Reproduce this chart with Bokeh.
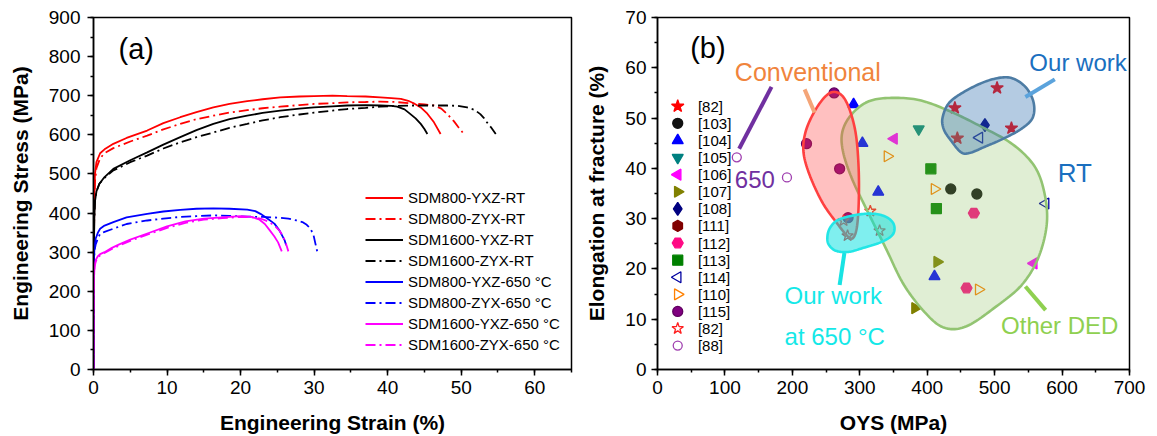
import numpy as np
from bokeh.plotting import figure
from bokeh.layouts import row
from bokeh.models import (Range1d, SingleIntervalTicker, Legend, LegendItem, Label)
from bokeh.core.properties import value
from bokeh.embed import file_html
from bokeh.resources import INLINE

FONT = "Liberation Sans"

# ---------------- panel (a): stress-strain curves ----------------
s800_yxz_rt_x = [0, 0.05, 0.1, 0.2, 0.4, 0.9, 1.5, 2.7, 4.5, 7.3, 9.5, 11.8, 14, 16.3, 18.5, 20.9, 23, 25.4, 28, 30, 32.5, 34.5, 37, 39, 40.5, 41.8, 42.8, 43.6, 44.5, 45.4, 46.3, 47.2]
s800_yxz_rt_y = [0, 250, 420, 500, 530, 553, 563, 577, 592, 611, 630, 645, 658, 670, 679, 686, 691, 696, 698, 699, 700, 699, 698, 696, 694, 692, 687, 680, 670, 654, 632, 602]
s800_zyx_rt_x = [0, 0.05, 0.1, 0.2, 0.4, 0.9, 1.5, 2.7, 5, 7.3, 9.5, 11.8, 14, 16.3, 18.5, 20.9, 23, 25.4, 28, 30, 32.5, 34.5, 37, 39, 41, 43.6, 45, 46.3, 47.3, 48.1, 49, 49.6, 50.2]
s800_zyx_rt_y = [0, 250, 410, 480, 515, 540, 553, 566, 583, 598, 614, 628, 640, 649, 657, 663, 668, 672, 676, 679, 681, 683, 684, 685, 684, 680, 678, 675, 667, 653, 635, 620, 606]
s1600_yxz_rt_x = [0, 0.05, 0.1, 0.2, 0.4, 0.8, 1.5, 2.7, 5, 7.3, 9.5, 11.8, 14, 16.3, 18.5, 20.9, 23, 25.4, 28, 30, 32.5, 34.5, 37, 39, 40.5, 41.3, 42.3, 43.1, 43.8, 44.5, 45.0, 45.4]
s1600_yxz_rt_y = [0, 250, 380, 430, 455, 475, 492, 513, 535, 555, 575, 594, 612, 628, 640, 649, 656, 662, 667, 670, 673, 675, 676, 675, 674, 672, 665, 653, 642, 628, 615, 602]
s1600_zyx_rt_x = [0, 0.05, 0.1, 0.2, 0.4, 0.8, 1.5, 2.7, 5, 7.3, 9.5, 11.8, 14, 16.3, 18.5, 20.9, 23, 25.4, 28, 30, 32.5, 34.5, 37, 39, 41.3, 43.6, 46, 48.1, 49.5, 50.8, 51.8, 52.6, 53.1, 53.5, 54.1, 54.7]
s1600_zyx_rt_y = [0, 250, 380, 430, 455, 475, 490, 509, 530, 547, 565, 581, 594, 606, 618, 628, 637, 645, 652, 657, 662, 666, 669, 672, 674, 675, 675, 675, 674, 670, 664, 653, 643, 632, 618, 602]
s800_yxz_650_x = [0, 0.03, 0.08, 0.15, 0.3, 0.6, 0.9, 1.5, 2.7, 4.5, 7.3, 9.5, 11.8, 14, 16.3, 18.5, 20.9, 22, 22.7, 23.5, 24.6, 25.3, 26, 26.2]
s800_yxz_650_y = [0, 200, 290, 318, 335, 350, 360, 368, 377, 389, 398, 404, 408, 411, 412, 411, 409, 405, 398, 388, 373, 355, 330, 318]
s800_zyx_650_x = [0, 0.03, 0.08, 0.15, 0.3, 0.6, 0.9, 1.5, 2.7, 4.5, 7.3, 9.5, 11.8, 14, 16.3, 18.5, 20.9, 23, 25.4, 26.5, 27.6, 28.4, 29, 29.5, 29.9, 30.2, 30.5]
s800_zyx_650_y = [0, 190, 280, 305, 320, 335, 347, 352, 360, 372, 381, 386, 390, 392, 394, 393, 391, 390, 388, 386, 381, 377, 370, 360, 345, 320, 295]
s1600_yxz_650_x = [0, 0.03, 0.08, 0.15, 0.3, 0.6, 0.9, 1.5, 2.5, 3.5, 5, 7.5, 10, 12.5, 15, 17.5, 20, 21.5, 22.5, 23.3, 24, 24.6, 25.1, 25.6]
s1600_yxz_650_y = [0, 150, 240, 265, 280, 290, 295, 300, 311, 320, 332, 349, 366, 379, 386, 389, 392, 390, 384, 372, 355, 340, 325, 302]
s1600_zyx_650_x = [0, 0.03, 0.08, 0.15, 0.3, 0.6, 0.9, 1.5, 2.5, 3.5, 5, 7.5, 10, 12.5, 15, 17.5, 20, 21.5, 22.7, 23.8, 24.6, 25.3, 25.8, 26.2, 26.5]
s1600_zyx_650_y = [0, 150, 240, 262, 276, 286, 292, 298, 308, 317, 329, 346, 362, 375, 383, 387, 390, 389, 386, 378, 368, 355, 340, 320, 302]

curve_labels = ["SDM800-YXZ-RT", "SDM800-ZYX-RT", "SDM1600-YXZ-RT", "SDM1600-ZYX-RT",
                "SDM800-YXZ-650 °C", "SDM800-ZYX-650 °C", "SDM1600-YXZ-650 °C", "SDM1600-ZYX-650 °C"]

# ---------------- panel (b): OYS vs elongation ----------------
ref82_x = [441, 503.6, 524.9, 444.7];   ref82_y = [52.0, 56.0, 48.0, 46.0]
ref103_x = [434.9, 473.6];             ref103_y = [35.9, 34.9]
ref104_x = [290.8, 303.9, 327.4, 410.8]; ref104_y = [52.7, 45.0, 35.3, 18.5]
ref105_x = [387.4];                    ref105_y = [47.8]
ref106_x = [350.8, 558.1];             ref106_y = [45.9, 21.1]
ref107_x = [414.7, 381.9];             ref107_y = [21.4, 12.2]
ref108_x = [485.6];                    ref108_y = [48.6]
ref111_x = [];                         ref111_y = []
ref112_x = [469.2, 458.3];             ref112_y = [31.1, 16.2]
ref113_x = [405.4, 413.6];             ref113_y = [39.9, 32.0]
ref114_x = [477.4, 575.6];             ref114_y = [46.1, 33.0]
ref110_x = [341.0, 410.8, 476.3];      ref110_y = [42.4, 35.9, 15.9]
ref115_x = [261.9, 221.0, 270.1, 282.6]; ref115_y = [55.0, 44.9, 39.9, 30.2]
ref82o_x = [276.0, 281.9, 329.4, 315.6]; ref82o_y = [29.6, 26.6, 27.6, 31.5]
ref88_x = [117.6, 192.0];              ref88_y = [42.2, 38.2]

# region outlines (annotation shapes)
conv_x = [261.9, 275.5, 286.4, 294.6, 298.4, 298.4, 295.7, 290.3, 282.6, 267.3, 245.5, 226.4, 216.6, 219.3, 231.9, 248.2]
conv_y = [55.2, 54.2, 51.1, 46.4, 39.7, 33.0, 28.3, 26.2, 26.4, 28.9, 33.0, 38.4, 43.1, 47.1, 51.1, 54.2]
hot_x = [256.4, 267.3, 289.2, 316.4, 338.2, 350.3, 349.2, 332.8, 305.5, 283.7, 264.6, 253.7, 252.1]
hot_y = [28.3, 29.7, 30.6, 31.0, 30.4, 28.9, 26.9, 25.4, 24.2, 23.4, 23.6, 24.9, 26.6]
rt_x = [422.8, 433.7, 463.8, 496.5, 523.8, 545.6, 557.6, 556.5, 540.1, 512.9, 485.6, 463.8, 450.1, 433.7, 424.5]
rt_y = [50.1, 53.2, 55.9, 57.7, 58.0, 56.2, 53.2, 50.1, 47.9, 45.9, 44.3, 43.1, 43.2, 45.8, 47.8]
ded_x = [343.7, 311.0, 286.4, 273.9, 275.5, 289.2, 311.0, 338.3, 365.6, 398.3, 425.6, 458.3, 502.0, 540.1, 564.7, 577.3, 574.0, 559.2, 526.5, 480.1, 431.0, 387.4]
ded_y = [54.0, 53.2, 50.5, 47.1, 43.1, 37.7, 31.6, 24.2, 16.8, 11.1, 8.3, 8.6, 12.5, 16.8, 22.2, 28.9, 35.0, 40.4, 44.8, 48.3, 51.5, 53.6]


def smooth_closed(xs, ys, n=12):
    xs = np.asarray(xs, float); ys = np.asarray(ys, float)
    m = len(xs)
    ox, oy = [], []
    for i in range(m):
        p0 = (xs[i - 1], ys[i - 1]); p1 = (xs[i], ys[i])
        p2 = (xs[(i + 1) % m], ys[(i + 1) % m]); p3 = (xs[(i + 2) % m], ys[(i + 2) % m])
        for t in np.linspace(0, 1, n, endpoint=False):
            t2, t3 = t * t, t * t * t
            for k, arr in ((0, ox), (1, oy)):
                a0, a1, a2, a3 = p0[k], p1[k], p2[k], p3[k]
                arr.append(0.5 * (2 * a1 + (-a0 + a2) * t + (2 * a0 - 5 * a1 + 4 * a2 - a3) * t2
                                  + (-a0 + 3 * a1 - 3 * a2 + a3) * t3))
    return ox, oy


def style(p, xint, yint):
    p.outline_line_color = "black"
    p.outline_line_width = 1.5
    p.xgrid.visible = False
    p.ygrid.visible = False
    p.xaxis.ticker = SingleIntervalTicker(interval=xint, num_minor_ticks=2)
    p.yaxis.ticker = SingleIntervalTicker(interval=yint, num_minor_ticks=2)
    for ax in (p.xaxis[0], p.yaxis[0]):
        ax.axis_line_width = 1.5
        ax.major_tick_line_width = 1.5
        ax.minor_tick_line_width = 1.5
        ax.major_tick_in = 0
        ax.minor_tick_in = 0
        ax.major_tick_out = 6
        ax.minor_tick_out = 3
        ax.major_label_text_font = FONT
        ax.major_label_text_font_size = "19px"
        ax.major_label_text_color = "black"
        ax.axis_label_text_font = FONT
        ax.axis_label_text_font_size = "21px"
        ax.axis_label_text_font_style = "bold"
        ax.axis_label_text_color = "black"
    p.xaxis.major_label_standoff = 5
    p.yaxis.major_label_standoff = 7
    p.xaxis.axis_label_standoff = 14
    p.yaxis.axis_label_standoff = 14


# ---- panel (a)
pa = figure(width=579, height=436, output_backend="svg", toolbar_location=None,
            x_range=Range1d(0, 65), y_range=Range1d(0, 900),
            min_border_left=93, min_border_right=8, min_border_top=17, min_border_bottom=67,
            x_axis_label="Engineering Strain (%)", y_axis_label="Engineering Stress (MPa)")
style(pa, 10, 100)

series_a = [
    (s800_yxz_rt_x, s800_yxz_rt_y, "#ff0000", "solid"),
    (s800_zyx_rt_x, s800_zyx_rt_y, "#ff0000", "10 4 2 4"),
    (s1600_yxz_rt_x, s1600_yxz_rt_y, "#000000", "solid"),
    (s1600_zyx_rt_x, s1600_zyx_rt_y, "#000000", "10 4 2 4"),
    (s800_yxz_650_x, s800_yxz_650_y, "#0000ff", "solid"),
    (s800_zyx_650_x, s800_zyx_650_y, "#0000ff", "10 4 2 4"),
    (s1600_yxz_650_x, s1600_yxz_650_y, "#ff00ff", "solid"),
    (s1600_zyx_650_x, s1600_zyx_650_y, "#ff00ff", "10 4 2 4"),
]
items_a = []
for (xs, ys, c, dash), lab in zip(series_a, curve_labels):
    r = pa.line(xs, ys, line_color=c, line_width=1.8, line_dash=dash)
    items_a.append(LegendItem(label=lab, renderers=[r]))

leg_a = Legend(items=items_a, location=(272, 14), orientation="vertical",
               label_text_font=FONT, label_text_font_size="15px", label_text_color="black",
               glyph_width=38, glyph_height=21, label_height=21, spacing=0,
               padding=0, margin=0, label_standoff=5,
               border_line_color=None, background_fill_alpha=0)
pa.add_layout(leg_a)
pa.add_layout(Label(x=3.4, y=820, text="(a)", text_font=FONT, text_font_size="29px",
                    text_baseline="middle", text_align="left", text_color="black"))

# ---- panel (b)
pb = figure(width=578, height=436, output_backend="svg", toolbar_location=None,
            x_range=Range1d(0, 700), y_range=Range1d(0, 70),
            min_border_left=78, min_border_right=28, min_border_top=17, min_border_bottom=67,
            x_axis_label="OYS (MPa)", y_axis_label="Elongation at fracture (%)")
style(pb, 100, 10)
pb.yaxis.major_label_standoff = 5

H = np.pi / 2
specs_b = [
    ("[82]", ref82_x, ref82_y, "star", "#ff0000", "#ff0000", 0, 13),
    ("[103]", ref103_x, ref103_y, "circle", "#111111", "#111111", 0, 10),
    ("[104]", ref104_x, ref104_y, "triangle", "#0000ff", "#0000ff", 0, 11),
    ("[105]", ref105_x, ref105_y, "inverted_triangle", "#008080", "#008080", 0, 11),
    ("[106]", ref106_x, ref106_y, "triangle", "#ff00ff", "#ff00ff", H, 11),
    ("[107]", ref107_x, ref107_y, "triangle", "#808000", "#808000", -H, 11),
    ("[108]", ref108_x, ref108_y, "diamond", "#000080", "#000080", 0, 13),
    ("[111]", ref111_x, ref111_y, "hex", "#800000", "#800000", H, 11),
    ("[112]", ref112_x, ref112_y, "hex", "#ff0a84", "#ff0a84", 0, 11),
    ("[113]", ref113_x, ref113_y, "square", "#008000", "#008000", 0, 10),
    ("[114]", ref114_x, ref114_y, "triangle", None, "#0000a0", H, 11),
    ("[110]", ref110_x, ref110_y, "triangle", None, "#ff8000", -H, 11),
    ("[115]", ref115_x, ref115_y, "circle", "#800080", "#600060", 0, 10),
    ("[82]", ref82o_x, ref82o_y, "star", None, "#ff2020", 0, 12),
    ("[88]", ref88_x, ref88_y, "circle", None, "#a040b0", 0, 9),
]
for lab, xs, ys, mk, fc, lc, ang, sz in specs_b:
    pb.scatter(xs, ys, marker=mk, size=sz, angle=ang,
               fill_color=fc, line_color=lc, line_width=1.3)

# translucent regions drawn above points
for bx, by, fc, fa, lc in [
    (ded_x, ded_y, "#8cc060", 0.27, "#92c472"),
    (conv_x, conv_y, "#ff4040", 0.33, "#ff4040"),
    (rt_x, rt_y, "#3070b0", 0.36, "#4d7ca4"),
    (hot_x, hot_y, "#00e0e0", 0.5, "#22e6e6"),
]:
    sx, sy = smooth_closed(bx, by)
    pb.patch(sx, sy, fill_color=fc, fill_alpha=fa, line_color=lc, line_width=2.6)

# pointer lines for annotations
ptr_x0 = [218.2, 589.2, 169.1, 277.2, 545.6]
ptr_y0 = [55.7, 57.7, 56.2, 23.2, 16.5]
ptr_x1 = [232.9, 545.6, 121.1, 270.1, 575.6]
ptr_y1 = [51.1, 54.2, 43.9, 16.8, 11.8]
ptr_c = ["#f4a578", "#5ba3dc", "#7030a0", "#19e3e3", "#8fd050"]
pb.segment(ptr_x0, ptr_y0, ptr_x1, ptr_y1, line_color=ptr_c, line_width=4)

ann_text = ["Conventional", "Our work", "RT", "650", "Our work", "at 650 °C", "Other DED"]
ann_x = [114.7, 551.5, 593.6, 114.7, 188.4, 188.4, 509.5]
ann_y = [59.1, 61.1, 39.0, 37.8, 14.7, 6.6, 8.7]
ann_c = ["#f0843c", "#1a6fbf", "#1a6fbf", "#7030a0", "#14e8e8", "#14e8e8", "#8fd050"]
ann_s = ["25px", "24px", "26px", "24px", "24px", "24px", "24px"]
for t, x, y, c, s in zip(ann_text, ann_x, ann_y, ann_c, ann_s):
    pb.add_layout(Label(x=x, y=y, text=t, text_font=FONT, text_font_size=s,
                        text_color=c, text_baseline="middle", text_align="left"))

pb.add_layout(Label(x=48.5, y=64, text="(b)", text_font=FONT, text_font_size="29px",
                    text_baseline="middle", text_align="left", text_color="black"))

# key for panel (b): one row per reference, drawn inside the frame
key_marker_x = 30.0
key_text_x = 60.0
key_top_y = 52.35
key_step = 3.40
for i, (lab, xs, ys, mk, fc, lc, ang, sz) in enumerate(specs_b):
    ky = key_top_y - i * key_step
    pb.scatter([key_marker_x], [ky], marker=mk, size=sz, angle=ang,
               fill_color=fc, line_color=lc, line_width=1.3)
    pb.text([key_text_x], [ky], text=[lab], text_font=value(FONT), text_font_size="15px",
            text_color="black", text_baseline="middle", text_align="left")

layout = row(pa, pb)
open("out.html", "w").write(file_html(layout, INLINE))
